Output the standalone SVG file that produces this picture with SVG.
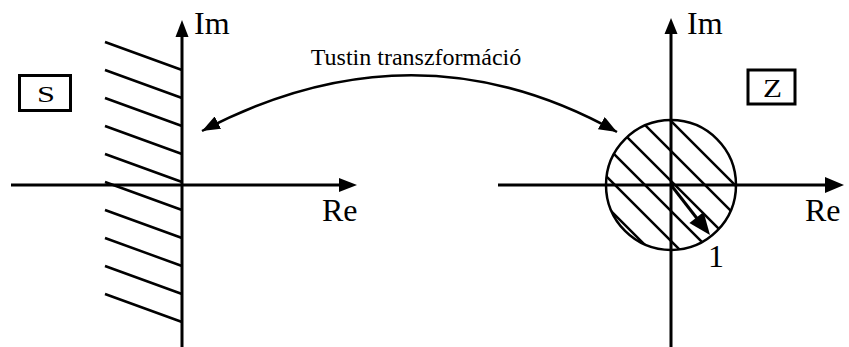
<svg xmlns="http://www.w3.org/2000/svg" width="849" height="347" viewBox="0 0 849 347">
<style>
.ax{stroke:#000;stroke-width:3;fill:none}
.h{stroke:#000;stroke-width:2.5;fill:none}
.hd{fill:#000;stroke:none}
.t{fill:#000}
.box{fill:#fff;stroke:#000;stroke-width:3}
</style>
<defs>
<marker id="ah" viewBox="0 0 18 14" refX="18" refY="7" markerWidth="18" markerHeight="14" markerUnits="userSpaceOnUse" orient="auto-start-reverse">
<path d="M0,0 L18,7 L0,14 Z" fill="#000"/>
</marker>
<clipPath id="cc"><circle cx="671" cy="185" r="65"/></clipPath>
</defs>
<rect width="849" height="347" fill="#fff"/>
<g font-family="'Liberation Serif', 'DejaVu Serif', serif">
<g id="s-plane">
<g id="s-hatch" class="h">
<line x1="105" y1="42" x2="182" y2="70"/>
<line x1="105" y1="70" x2="182" y2="98"/>
<line x1="105" y1="98" x2="182" y2="126"/>
<line x1="105" y1="126" x2="182" y2="154"/>
<line x1="105" y1="154" x2="182" y2="182"/>
<line x1="105" y1="182" x2="182" y2="210"/>
<line x1="105" y1="210" x2="182" y2="238"/>
<line x1="105" y1="238" x2="182" y2="266"/>
<line x1="105" y1="266" x2="182" y2="294"/>
<line x1="105" y1="294" x2="182" y2="322"/>
</g>
<line class="ax" x1="182" y1="34" x2="182" y2="347"/>
<polygon class="hd" points="182,20 175.5,37 188.5,37"/>
<line class="ax" x1="11" y1="185" x2="342" y2="185"/>
<polygon class="hd" points="357,185 339,178 339,192"/>
<text class="t" x="194" y="34" font-size="32">Im</text>
<text class="t" x="322" y="221" font-size="32">Re</text>
</g>
<g id="s-label">
<rect class="box" x="19.5" y="75.5" width="51" height="35"/>
<text class="t" x="37" y="102" font-size="23" textLength="18" lengthAdjust="spacingAndGlyphs">S</text>
</g>
<g id="z-plane">
<g id="z-hatch" class="h" clip-path="url(#cc)">
<line x1="500" y1="100" x2="750" y2="350"/>
<line x1="530" y1="100" x2="780" y2="350"/>
<line x1="560" y1="100" x2="810" y2="350"/>
<line x1="590" y1="100" x2="840" y2="350"/>
<line x1="620" y1="100" x2="870" y2="350"/>
<line x1="650" y1="100" x2="900" y2="350"/>
</g>
<circle cx="671" cy="185" r="65" fill="none" stroke="#000" stroke-width="2.5"/>
<line class="ax" x1="671" y1="32" x2="671" y2="347"/>
<polygon class="hd" points="671,18 664.5,34 677.5,34"/>
<line class="ax" x1="498" y1="185" x2="828" y2="185"/>
<polygon class="hd" points="844,185 825,177 825,193"/>
<line x1="671" y1="185" x2="699" y2="221" stroke="#000" stroke-width="3"/>
<polygon class="hd" points="710,235 703.6,212.1 689.4,223.1"/>
<text class="t" x="687" y="34" font-size="32">Im</text>
<text class="t" x="805" y="221" font-size="32">Re</text>
<text class="t" x="708" y="267" font-size="32">1</text>
</g>
<g id="z-label">
<rect class="box" x="748" y="70" width="47" height="34"/>
<text class="t" x="763" y="97" font-size="25" textLength="19" lengthAdjust="spacingAndGlyphs">Z</text>
</g>
<g id="connectors">
<path d="M202,131 Q415,19 617,132" fill="none" stroke="#000" stroke-width="2.5" marker-start="url(#ah)" marker-end="url(#ah)"/>
<text class="t" x="416" y="65" font-size="24" text-anchor="middle">Tustin transzformáció</text>
</g>
</g>
</svg>
